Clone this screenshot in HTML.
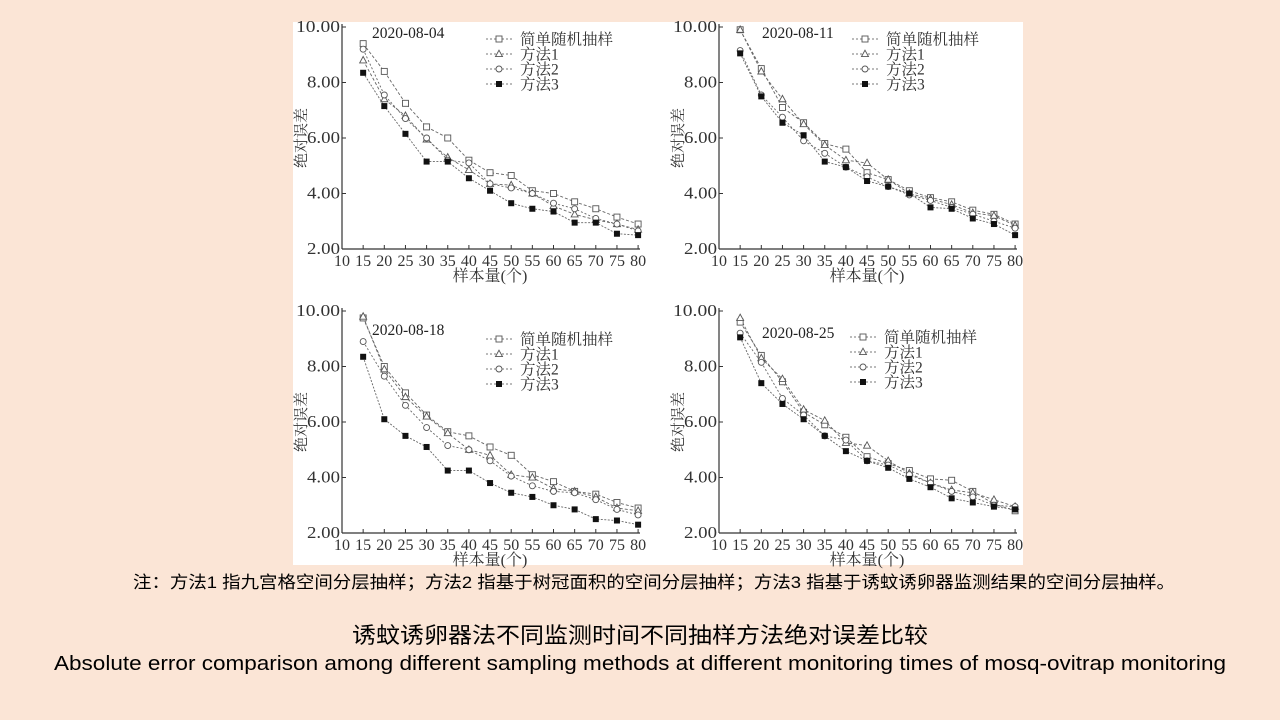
<!DOCTYPE html>
<html><head><meta charset="utf-8"><style>
html,body{margin:0;padding:0;background:#fbe5d6;}
svg{display:block}
</style></head><body>
<svg id="s" width="1280" height="720" xmlns="http://www.w3.org/2000/svg">
<rect width="1280" height="720" fill="#fbe5d6"/>
<rect x="293" y="22" width="730" height="543" fill="#ffffff"/>
<g id="charts"></g>
<text x="133" y="588" font-family="Liberation Sans,'Noto Sans CJK SC',sans-serif" font-size="17" fill="#000" textLength="1042" lengthAdjust="spacingAndGlyphs">注：方法1 指九宫格空间分层抽样；方法2 指基于树冠面积的空间分层抽样；方法3 指基于诱蚊诱卵器监测结果的空间分层抽样。</text>
<text x="352" y="643" font-family="Liberation Sans,'Noto Sans CJK SC',sans-serif" font-size="22" fill="#000" textLength="576" lengthAdjust="spacingAndGlyphs">诱蚊诱卵器法不同监测时间不同抽样方法绝对误差比较</text>
<text x="54" y="670" font-family="Liberation Sans,sans-serif" font-size="20" fill="#000" textLength="1172" lengthAdjust="spacingAndGlyphs">Absolute error comparison among different sampling methods at different monitoring times of mosq-ovitrap monitoring</text>
</svg>
<script>
var D=[
{d:"2020-08-04",dx:372,dy:38,lx:486,ly:39,s:[[9.4,8.4,7.25,6.4,6.0,5.2,4.75,4.65,4.1,4.0,3.7,3.45,3.15,2.9],[8.8,7.4,6.8,5.95,5.3,4.85,4.35,4.3,4.0,3.55,3.25,3.05,2.9,2.7],[9.2,7.55,6.7,6.0,5.2,5.1,4.35,4.2,4.0,3.65,3.45,3.1,2.9,2.65],[8.35,7.15,6.15,5.15,5.15,4.55,4.1,3.65,3.45,3.35,2.95,2.95,2.55,2.5]]},
{d:"2020-08-11",dx:762,dy:38,lx:852,ly:39,s:[[9.9,8.5,7.1,6.55,5.8,5.6,4.75,4.5,4.1,3.85,3.7,3.4,3.25,2.9],[9.9,8.4,7.4,6.5,5.75,5.2,5.1,4.5,4.0,3.8,3.6,3.3,3.2,2.85],[9.15,7.55,6.75,5.9,5.45,4.95,4.6,4.25,3.95,3.75,3.5,3.25,3.0,2.75],[9.05,7.5,6.55,6.1,5.15,4.95,4.45,4.25,4.0,3.5,3.45,3.1,2.9,2.5]]},
{d:"2020-08-18",dx:372,dy:335,lx:486,ly:339,s:[[9.75,8.0,7.05,6.25,5.65,5.5,5.1,4.8,4.1,3.85,3.5,3.4,3.1,2.9],[9.8,7.9,6.9,6.2,5.6,5.0,4.8,4.1,4.0,3.6,3.5,3.3,2.9,2.8],[8.9,7.65,6.6,5.8,5.15,5.0,4.6,4.05,3.7,3.5,3.45,3.2,2.85,2.65],[8.35,6.1,5.5,5.1,4.25,4.25,3.8,3.45,3.3,3.0,2.85,2.5,2.45,2.3]]},
{d:"2020-08-25",dx:762,dy:338,lx:850,ly:337,s:[[9.6,8.4,7.45,6.35,5.9,5.45,4.75,4.5,4.25,3.95,3.9,3.5,3.05,2.8],[9.75,8.3,7.55,6.45,6.05,5.25,5.15,4.6,4.15,3.8,3.55,3.45,3.2,2.95],[9.2,8.15,6.85,6.25,5.5,5.35,4.6,4.45,4.1,3.8,3.5,3.3,3.0,2.95],[9.05,7.4,6.65,6.1,5.5,4.95,4.6,4.35,3.95,3.65,3.25,3.1,2.95,2.85]]}
];
var names=["简单随机抽样","方法1","方法2","方法3"];
var dash=["3,2","3,2","2,2","2,1.5"];
var F="'Liberation Serif','Noto Serif CJK SC',serif";
var h="";
function mk(t,cx,cy){
 var c="#555";
 if(t==0)return '<rect x="'+(cx-3)+'" y="'+(cy-3)+'" width="6" height="6" fill="#fff" stroke="'+c+'" stroke-width="0.9"/>';
 if(t==1)return '<polygon points="'+cx+','+(cy-3.8)+' '+(cx+3.5)+','+(cy+2.6)+' '+(cx-3.5)+','+(cy+2.6)+'" fill="#fff" stroke="'+c+'" stroke-width="0.9"/>';
 if(t==2)return '<circle cx="'+cx+'" cy="'+cy+'" r="3" fill="#fff" stroke="'+c+'" stroke-width="0.9"/>';
 return '<rect x="'+(cx-3)+'" y="'+(cy-3)+'" width="6" height="6" fill="#111"/>';
}
D.forEach(function(c,i){
 var L=342+(i%2)*377, T=27+Math.floor(i/2)*284, B=T+222, R=L+296;
 var X=function(v){return L+(v-10)*4.23}, Y=function(v){return B-(v-2)*27.75};
 h+='<line x1="'+L+'" y1="'+(T-3)+'" x2="'+L+'" y2="'+B+'" stroke="#333" stroke-width="1.2"/>';
 h+='<line x1="'+L+'" y1="'+B+'" x2="'+(R+2)+'" y2="'+B+'" stroke="#333" stroke-width="1.2"/>';
 for(var v=2;v<=10;v+=2){h+='<line x1="'+L+'" y1="'+Y(v)+'" x2="'+(L+4)+'" y2="'+Y(v)+'" stroke="#333"/>';
  h+='<text x="'+(L-2)+'" y="'+(Y(v)+5)+'" text-anchor="end" font-family="'+F+'" font-size="17" fill="#333" textLength="'+(v==10?44:33)+'" lengthAdjust="spacingAndGlyphs">'+v.toFixed(2)+'</text>';}
 for(var x=10;x<=80;x+=5){h+='<line x1="'+X(x)+'" y1="'+B+'" x2="'+X(x)+'" y2="'+(B-4)+'" stroke="#333"/>';
  h+='<text x="'+X(x)+'" y="'+(B+17)+'" text-anchor="middle" font-family="'+F+'" font-size="16" fill="#333">'+x+'</text>';}
 h+='<text x="'+(L+148)+'" y="'+(B+32)+'" text-anchor="middle" font-family="'+F+'" font-size="16" fill="#333">样本量(个)</text>';
 h+='<text transform="translate('+(L-36)+','+(T+111)+') rotate(-90)" text-anchor="middle" font-family="'+F+'" font-size="15" fill="#333">绝对误差</text>';
 h+='<text x="'+c.dx+'" y="'+c.dy+'" font-family="'+F+'" font-size="15.5" fill="#222">'+c.d+'</text>';
 for(var k=0;k<4;k++){
  var yy=c.ly+k*15, lx=c.lx;
  h+='<line x1="'+lx+'" y1="'+yy+'" x2="'+(lx+27)+'" y2="'+yy+'" stroke="#777" stroke-dasharray="2,2"/>'+mk(k,lx+13,yy);
  h+='<text x="'+(lx+34)+'" y="'+(yy+5.5)+'" font-family="'+F+'" font-size="15.5" fill="#333">'+names[k]+'</text>';
 }
 c.s.forEach(function(s,k){
  var p=s.map(function(v,j){return X(15+5*j)+','+Y(v)}).join(' ');
  h+='<polyline points="'+p+'" fill="none" stroke="#666" stroke-width="0.9" stroke-dasharray="'+dash[k]+'"/>';
 });
 c.s.forEach(function(s,k){s.forEach(function(v,j){h+=mk(k,X(15+5*j),Y(v));});});
});
document.getElementById("charts").innerHTML=h;
</script>
</body></html>
